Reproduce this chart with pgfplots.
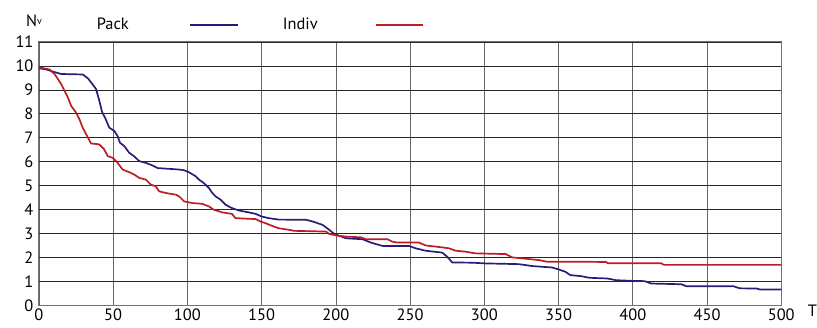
\documentclass[border=0pt]{standalone}
\usepackage{fontspec}
\setmainfont{PT Sans}
\usepackage{pgfplots}
\pgfplotsset{compat=1.18}
\definecolor{packblue}{RGB}{40,28,120}
\definecolor{indivred}{RGB}{190,28,36}
\newcommand{\lblfont}{\fontsize{16.5}{18}\selectfont}
\begin{document}
\begin{tikzpicture}
\begin{axis}[
  scale only axis, width=744bp, height=264bp,
  xmin=0, xmax=500, ymin=0, ymax=11,
  xtick={0,50,...,500}, ytick={0,1,...,11},
  major tick length=0pt,
  xmajorgrids, ymajorgrids,
  x grid style={black!60, line width=0.7pt},
  y grid style={black!85, line width=0.6pt},
  axis line style={black!55, line width=0.9pt},
  tick label style={font=\lblfont},
  /pgf/number format/assume math mode=true,
  yticklabel style={xshift=-2bp},
  xticklabel style={yshift=0bp},
  clip=false,
]
\addplot[packblue, line width=1.7pt] coordinates {
(0,9.9)(5,9.85)(9.4,9.76)(15,9.66)(29.5,9.64)(33,9.48)(36,9.24)(38.5,9.03)(40.7,8.54)(42.5,8.08)(45,7.77)(47.4,7.42)(50.8,7.28)(53,7.07)(54.6,6.79)(57.5,6.65)(60.8,6.37)(64,6.23)(67.6,6.02)(72,5.95)(76.5,5.84)(80,5.73)(87.7,5.7)(94.4,5.67)(97.8,5.64)(101,5.56)(105.6,5.39)(107.8,5.25)(111,5.11)(114.5,4.9)(116.8,4.69)(119,4.55)(122.4,4.41)(125.7,4.2)(130,4.06)(134.7,3.96)(141.4,3.88)(145.9,3.82)(150,3.71)(154.8,3.64)(161.5,3.58)(180,3.57)(184.4,3.5)(191,3.36)(195.6,3.15)(199,2.98)(206.8,2.8)(218,2.76)(223.6,2.62)(231.4,2.48)(249.3,2.48)(253.8,2.38)(260.5,2.28)(271.7,2.2)(275,2.03)(278.4,1.79)(291.9,1.78)(300.9,1.75)(323.3,1.72)(332.2,1.64)(345.6,1.58)(350,1.5)(354.6,1.4)(358,1.26)(365,1.22)(370.7,1.15)(383,1.12)(388.7,1.05)(400,1.02)(408,1.01)(412.4,0.91)(432.7,0.88)(436,0.8)(467.7,0.8)(472,0.71)(483.5,0.7)(485.8,0.66)(500,0.66)
};
\addplot[indivred, line width=1.7pt] coordinates {
(0,9.94)(7.2,9.85)(10.5,9.66)(12.8,9.45)(15,9.24)(17.2,8.96)(19.5,8.68)(21.7,8.33)(25,8.05)(27.3,7.77)(29.5,7.42)(32.2,7.1)(35.1,6.76)(40.7,6.72)(44,6.51)(46.3,6.23)(49.7,6.16)(53,5.95)(56.4,5.67)(60.8,5.56)(64.2,5.46)(67.6,5.32)(72,5.25)(75.4,5.04)(78.7,4.97)(81,4.76)(85.5,4.69)(92.2,4.62)(94.4,4.55)(97.8,4.34)(103.4,4.27)(110,4.24)(114.5,4.13)(117.9,3.99)(123.5,3.88)(130,3.82)(132.4,3.64)(146.2,3.6)(149.2,3.5)(152.6,3.43)(157,3.32)(161.5,3.22)(168.7,3.15)(172,3.11)(193.3,3.08)(195.6,2.98)(201,2.91)(206.8,2.87)(216.8,2.84)(220.2,2.76)(234.8,2.76)(238,2.66)(241.5,2.62)(256,2.62)(260.5,2.5)(271.7,2.42)(276.2,2.38)(280.7,2.28)(287.4,2.24)(294,2.17)(314.3,2.14)(318.8,2.0)(325.5,1.96)(336.7,1.89)(342.3,1.82)(363.6,1.82)(382,1.81)(383,1.76)(419,1.76)(421,1.69)(500,1.69)
};
\node[font=\lblfont] at (axis description cs:0.0995,1.07) {Pack};
\node[font=\lblfont] at (axis description cs:0.352,1.07) {Indiv};
\draw[packblue, line width=1.7pt] (axis description cs:0.204,1.064) -- (axis description cs:0.268,1.064);
\draw[indivred, line width=1.7pt] (axis description cs:0.454,1.064) -- (axis description cs:0.518,1.064);
\node[font=\lblfont, inner sep=0pt] at (axis description cs:-0.0067,1.08) {N\raisebox{0.25ex}{\fontsize{10}{11}\selectfont v}};
\node[font=\lblfont, inner sep=0pt] at (axis description cs:1.042,-0.02) {T};
\end{axis}
\path (current axis.south west) ++(-39bp,-22bp) rectangle ++(817bp,328bp);
\end{tikzpicture}
\end{document}
